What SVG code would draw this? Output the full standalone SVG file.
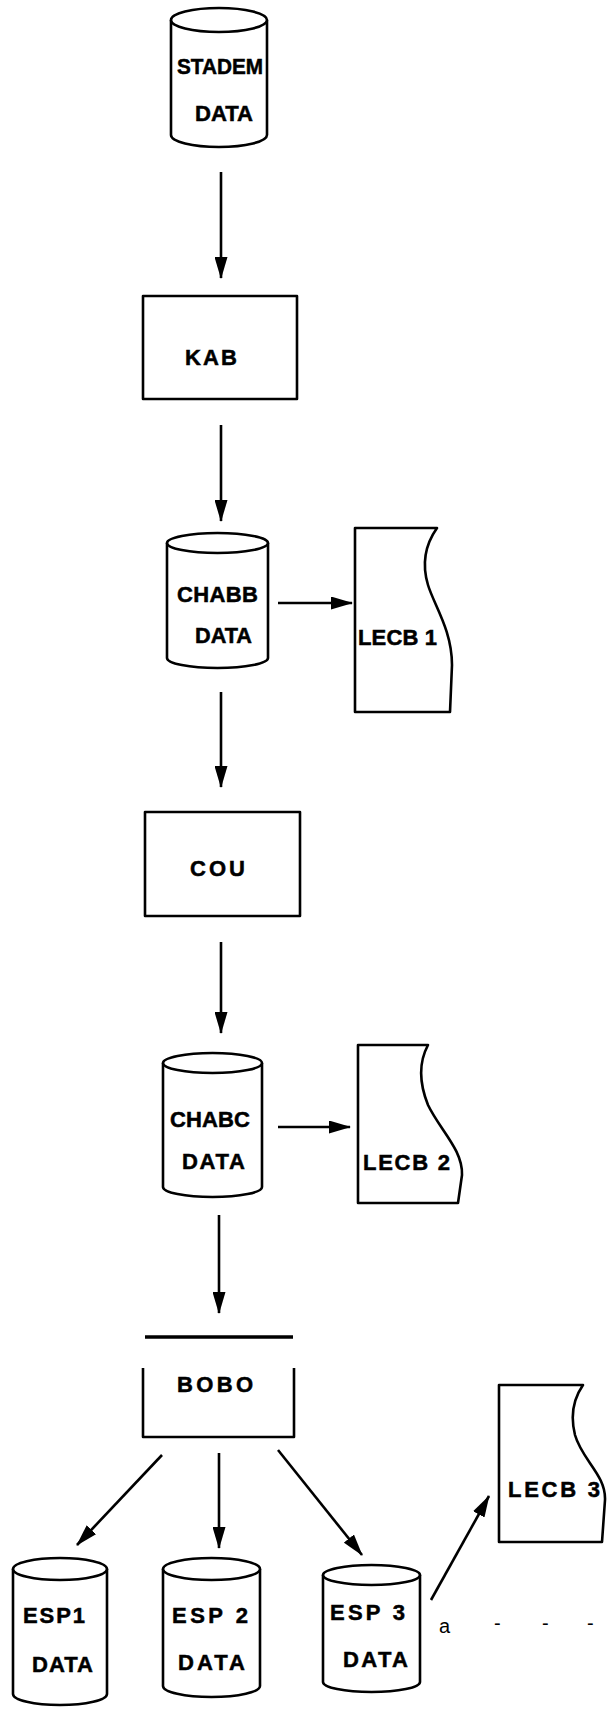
<svg xmlns="http://www.w3.org/2000/svg" width="609" height="1709" viewBox="0 0 609 1709">
<style>
.s{fill:none;stroke:#000;stroke-width:2.6;stroke-linejoin:round}
.f{fill:#fff;stroke:#000;stroke-width:2.6;stroke-linejoin:round}
.t{font-family:"Liberation Sans",Arial,sans-serif;font-weight:bold;font-size:22px;fill:#000;stroke:#000;stroke-width:0.5}
.a{fill:none;stroke:#000;stroke-width:2.6}
.n{font-family:"Liberation Sans",Arial,sans-serif;font-size:20px;fill:#000}
</style>
<defs>
<marker id="ah" viewBox="0 0 22 13" refX="21" refY="6.5" markerWidth="22" markerHeight="13" markerUnits="userSpaceOnUse" orient="auto">
<path d="M0,0 L22,6.5 L0,13 Z" fill="#000"/>
</marker>
</defs>
<rect width="609" height="1709" fill="#fff"/>

<g id="stadem">
<path class="f" d="M171,20 L171,135 A48,12 0 0 0 267,135 L267,20"/>
<ellipse class="f" cx="219" cy="20" rx="48" ry="12"/>
<text class="t" x="177" y="74" textLength="86" lengthAdjust="spacingAndGlyphs">STADEM</text>
<text class="t" x="195" y="121" textLength="58" lengthAdjust="spacingAndGlyphs">DATA</text>
</g>

<g id="kab">
<rect class="s" x="143" y="296" width="154" height="103"/>
<text class="t" x="185" y="365" textLength="52" lengthAdjust="spacing">KAB</text>
</g>

<g id="chabb">
<path class="f" d="M167,543 L167,658 A50.5,10 0 0 0 268,658 L268,543"/>
<ellipse class="f" cx="217.5" cy="543" rx="50.5" ry="10"/>
<text class="t" x="177" y="602" textLength="81" lengthAdjust="spacing">CHABB</text>
<text class="t" x="195" y="643" textLength="57" lengthAdjust="spacingAndGlyphs">DATA</text>
</g>

<g id="lecb1">
<path class="s" d="M355,528 L437,528 C425,545 422,565 428,585 C434,605 452,630 452,665 L450,712 L355,712 Z"/>
<text class="t" x="358" y="645" textLength="79" lengthAdjust="spacing">LECB 1</text>
</g>

<g id="cou">
<rect class="s" x="145" y="812" width="155" height="104"/>
<text class="t" x="190" y="876" textLength="55" lengthAdjust="spacing">COU</text>
</g>

<g id="chabc">
<path class="f" d="M163,1063 L163,1187 A49.5,10 0 0 0 262,1187 L262,1063"/>
<ellipse class="f" cx="212.5" cy="1063" rx="49.5" ry="10"/>
<text class="t" x="170" y="1127" textLength="80" lengthAdjust="spacing">CHABC</text>
<text class="t" x="182" y="1169" textLength="63" lengthAdjust="spacing">DATA</text>
</g>

<g id="lecb2">
<path class="s" d="M358,1045 L428,1045 C420,1060 418,1080 428,1105 C440,1130 463,1150 462,1175 L458,1203 L358,1203 Z"/>
<text class="t" x="363" y="1170" textLength="87" lengthAdjust="spacing">LECB 2</text>
</g>

<g id="bobo">
<line x1="145" y1="1337" x2="293" y2="1337" stroke="#000" stroke-width="3.5"/>
<path class="s" d="M143,1368 L143,1437 L294,1437 L294,1368"/>
<text class="t" x="177" y="1392" textLength="76" lengthAdjust="spacing">BOBO</text>
</g>

<g id="esp1">
<path class="f" d="M13,1569 L13,1694 A47,11 0 0 0 107,1694 L107,1569"/>
<ellipse class="f" cx="60" cy="1569" rx="47" ry="11"/>
<text class="t" x="23" y="1623" textLength="62" lengthAdjust="spacing">ESP1</text>
<text class="t" x="32" y="1672" textLength="61" lengthAdjust="spacing">DATA</text>
</g>

<g id="esp2">
<path class="f" d="M163,1569 L163,1686 A48.5,11 0 0 0 260,1686 L260,1569"/>
<ellipse class="f" cx="211.5" cy="1569" rx="48.5" ry="11"/>
<text class="t" x="172" y="1623" textLength="76" lengthAdjust="spacing">ESP 2</text>
<text class="t" x="178" y="1670" textLength="67" lengthAdjust="spacing">DATA</text>
</g>

<g id="esp3">
<path class="f" d="M323,1575 L323,1682 A48.5,10 0 0 0 420,1682 L420,1575"/>
<ellipse class="f" cx="371.5" cy="1575" rx="48.5" ry="10"/>
<text class="t" x="330" y="1620" textLength="75" lengthAdjust="spacing">ESP 3</text>
<text class="t" x="343" y="1667" textLength="65" lengthAdjust="spacing">DATA</text>
</g>

<g id="lecb3">
<path class="s" d="M499,1385 L583,1385 C574,1398 570,1415 575,1435 C582,1460 606,1475 605,1500 L602,1542 L499,1542 Z"/>
<text class="t" x="508" y="1497" textLength="92" lengthAdjust="spacing">LECB 3</text>
</g>

<g id="note">
<text class="n" x="439" y="1633">a</text>
<text class="n" x="494" y="1630">-</text>
<text class="n" x="542" y="1630">-</text>
<text class="n" x="587" y="1630">-</text>
</g>

<g id="connectors">
<line class="a" x1="221" y1="172" x2="221" y2="278" marker-end="url(#ah)"/>
<line class="a" x1="221" y1="425" x2="221" y2="521" marker-end="url(#ah)"/>
<line class="a" x1="278" y1="603" x2="352" y2="603" marker-end="url(#ah)"/>
<line class="a" x1="221" y1="692" x2="221" y2="787" marker-end="url(#ah)"/>
<line class="a" x1="221" y1="942" x2="221" y2="1033" marker-end="url(#ah)"/>
<line class="a" x1="278" y1="1127" x2="350" y2="1127" marker-end="url(#ah)"/>
<line class="a" x1="219" y1="1215" x2="219" y2="1313" marker-end="url(#ah)"/>
<line class="a" x1="162" y1="1455" x2="77" y2="1545" marker-end="url(#ah)"/>
<line class="a" x1="219" y1="1453" x2="219" y2="1548" marker-end="url(#ah)"/>
<line class="a" x1="278" y1="1450" x2="362" y2="1555" marker-end="url(#ah)"/>
<line class="a" x1="431" y1="1600" x2="489" y2="1496" marker-end="url(#ah)"/>
</g>
</svg>
